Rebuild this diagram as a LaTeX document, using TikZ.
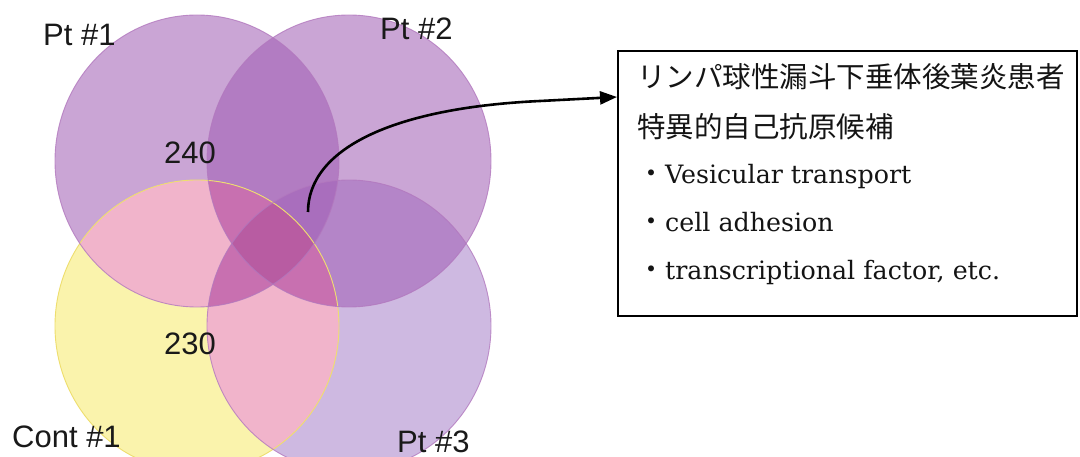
\documentclass[tikz,border=0pt]{standalone}
\usepackage{fontspec}
\usetikzlibrary{arrows.meta}
\newfontfamily\arialf{Liberation Sans}
\newfontfamily\cjk{Noto Sans CJK JP}
\newfontfamily\serifb{DejaVu Serif}
\definecolor{cpurP}{RGB}{160,92,180}
\definecolor{cpurD}{RGB}{166,128,202}
\definecolor{cyellow}{RGB}{250,243,172}
\definecolor{cpink}{RGB}{241,180,203}
\definecolor{cmag}{RGB}{200,112,176}
\definecolor{cdeep}{RGB}{184,92,162}
\definecolor{cedgeP}{RGB}{178,120,190}
\definecolor{cedgeY}{RGB}{238,222,110}
\tikzset{
  venlabel/.style={font=\arialf\fontsize{31}{31}\selectfont, inner sep=0pt, anchor=base west, text=black!90},
  boxline/.style={font=\serifb\fontsize{25.3}{25.3}\selectfont, inner sep=0pt, anchor=base west, text=black!92},
  arrowline/.style={line width=2.6pt, -{Triangle[length=17pt,width=13pt]}},
}
\begin{document}
\begin{tikzpicture}[x=1pt,y=-1pt]
\useasboundingbox (0,0) rectangle (1080,457);
\fill[white] (0,0) rectangle (1080,457);
% purple circles (semi-transparent)
\fill[cpurD, fill opacity=0.55] (349,326) ellipse [x radius=142, y radius=146];
\fill[cpurP, fill opacity=0.55] (197,161) ellipse [x radius=142, y radius=146];
\fill[cpurP, fill opacity=0.55] (349,161) ellipse [x radius=142, y radius=146];
% yellow circle
\fill[cyellow] (197,326) ellipse [x radius=142, y radius=146];
\begin{scope}
  \clip (197,326) ellipse [x radius=142, y radius=146];
  \fill[cpink] (197,161) ellipse [x radius=142, y radius=146];
  \fill[cpink] (349,161) ellipse [x radius=142, y radius=146];
  \fill[cpink] (349,326) ellipse [x radius=142, y radius=146];
  \begin{scope}
    \clip (197,161) ellipse [x radius=142, y radius=146];
    \fill[cmag] (349,161) ellipse [x radius=142, y radius=146];
    \fill[cmag] (349,326) ellipse [x radius=142, y radius=146];
  \end{scope}
  \begin{scope}
    \clip (349,161) ellipse [x radius=142, y radius=146];
    \fill[cmag] (349,326) ellipse [x radius=142, y radius=146];
    \clip (197,161) ellipse [x radius=142, y radius=146];
    \fill[cdeep] (349,326) ellipse [x radius=142, y radius=146];
  \end{scope}
\end{scope}
% outlines
\draw[cedgeY, line width=0.9pt] (197,326) ellipse [x radius=142, y radius=146];
\draw[cedgeP, line width=0.9pt, opacity=0.8] (197,161) ellipse [x radius=142, y radius=146];
\draw[cedgeP, line width=0.9pt, opacity=0.8] (349,161) ellipse [x radius=142, y radius=146];
\draw[cedgeP, line width=0.9pt, opacity=0.8] (349,326) ellipse [x radius=142, y radius=146];
% labels
\node[venlabel] (l1) at (43,46) {Pt \#1};
\node[venlabel] (l2) at (380,40) {Pt \#2};
\node[venlabel] (l3) at (12,447) {Cont \#1};
\node[venlabel] (l4) at (397,452) {Pt \#3};
\node[venlabel] (n240) at (164,164) {240};
\node[venlabel] (n230) at (164,355) {230};
% box
\node[draw, line width=2pt, minimum width=459pt, minimum height=265pt, inner sep=0pt] (box) at (847.5,183.5) {};
\node[boxline, font=\cjk\fontsize{28.5}{28.5}\selectfont] (jp1) at (637,88) {リンパ球性漏斗下垂体後葉炎患者};
\node[boxline, font=\cjk\fontsize{28.5}{28.5}\selectfont] (jp2) at (637,138) {特異的自己抗原候補};
\node[boxline] (b1) at (637,184) {{\cjk\fontsize{28}{28}\selectfont ・}Vesicular transport};
\node[boxline] (b2) at (637,232) {{\cjk\fontsize{28}{28}\selectfont ・}cell adhesion};
\node[boxline] (b3) at (637,280) {{\cjk\fontsize{28}{28}\selectfont ・}transcriptional factor, etc.};
% arrow
\coordinate (src) at (308,212);
\draw[arrowline] (src) .. controls (308,150) and (390,108) .. (540,101) -- (box.west |- 0,97);
\end{tikzpicture}
\end{document}
